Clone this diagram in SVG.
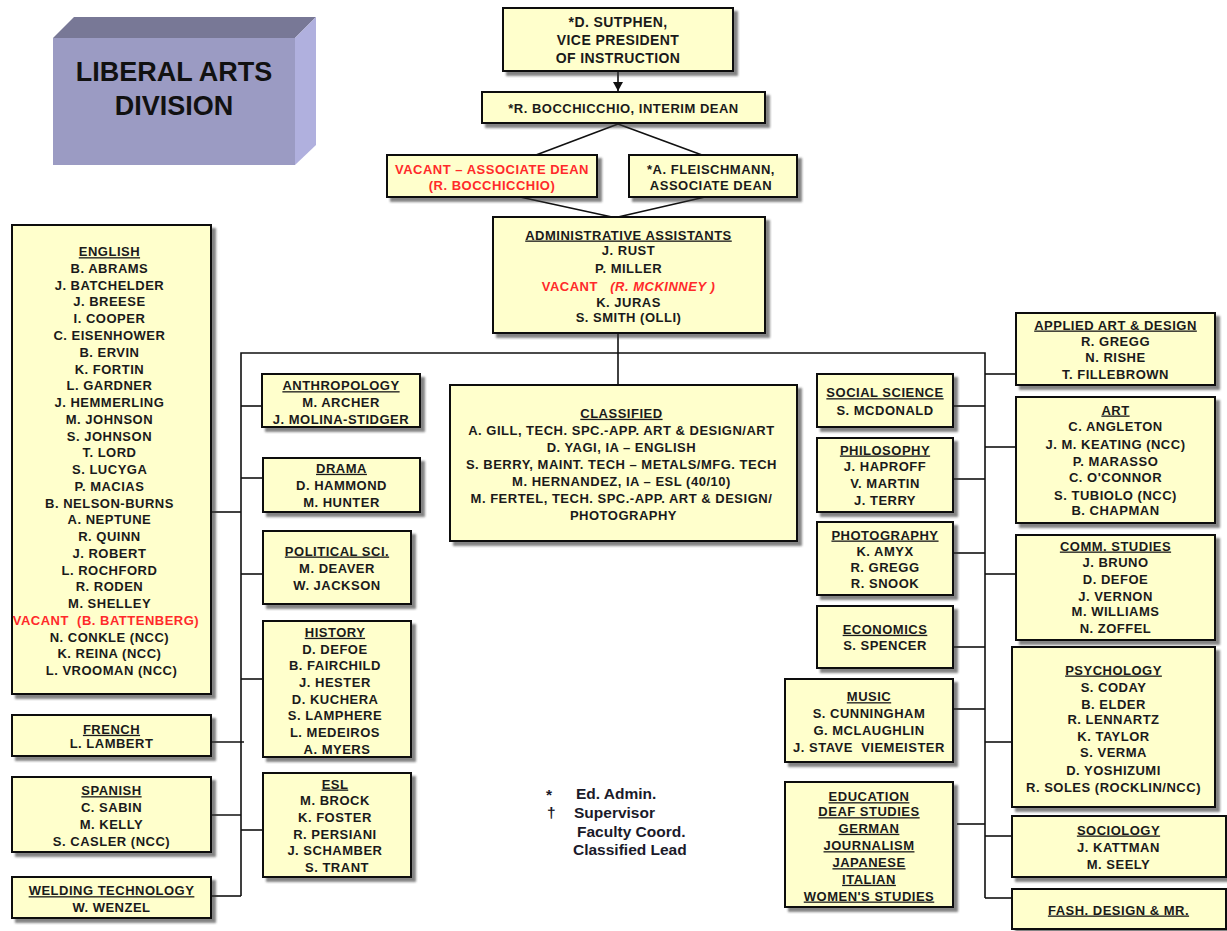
<svg xmlns="http://www.w3.org/2000/svg" width="1227" height="931" viewBox="0 0 1227 931">
  <defs>
    <filter id="sh" x="-10%" y="-10%" width="130%" height="130%">
      <feDropShadow dx="4" dy="4" stdDeviation="1.2" flood-color="#333" flood-opacity="0.6"/>
    </filter>
    <marker id="arr" markerWidth="10" markerHeight="10" refX="9" refY="5" orient="auto" markerUnits="userSpaceOnUse" viewBox="0 0 10 10">
      <path d="M0,0 L9,5 L0,10 Z" fill="#111"/>
    </marker>
    <style>
      .box { fill: #ffffcc; stroke: #111; stroke-width: 2; filter: url(#sh); }
      .t { font-family: "Liberation Sans", Arial, sans-serif; font-weight: bold; font-size: 13px; letter-spacing: 0.5px; fill: #1a1a1a; text-anchor: middle; }
      .big { font-size: 14px; letter-spacing: 0.4px; }
      .u { text-decoration: underline; }
      .red { fill: #ff2a2a; }
      .it { font-style: italic; }
      .ln { stroke: #111; stroke-width: 1.6; fill: none; }
      .lg { font-family: "Liberation Sans", Arial, sans-serif; font-weight: bold; font-size: 15.5px; fill: #1a1a2a; }
      .title { font-family: "Liberation Sans", Arial, sans-serif; font-weight: bold; font-size: 27px; fill: #111; text-anchor: middle; }
    </style>
  </defs>

  <rect width="1227" height="931" fill="#ffffff"/>

  <!-- division banner block -->
  <g id="division">
    <polygon points="53,38 74,17 316,17 295,38" fill="#787896"/>
    <polygon points="295,38 316,17 316,145 295,165" fill="#b0b0de"/>
    <rect x="53" y="38" width="242" height="127" fill="#9b9bc3"/>
    <text class="title" x="174" y="81">LIBERAL ARTS</text>
    <text class="title" x="174" y="115">DIVISION</text>
  </g>

  <!-- connectors -->
  <g id="connectors">
    <line class="ln" x1="618" y1="71" x2="618" y2="91" marker-end="url(#arr)"/>
    <line class="ln" x1="618" y1="124" x2="536" y2="155"/>
    <line class="ln" x1="618" y1="124" x2="702" y2="155"/>
    <line class="ln" x1="520" y1="197" x2="612" y2="217"/>
    <line class="ln" x1="705" y1="197" x2="618" y2="217"/>
    <line class="ln" x1="618" y1="333" x2="618" y2="385"/>
    <!-- main bus -->
    <polyline class="ln" points="241,896 241,353 985,353 985,898"/>
    <!-- left column -->
    <line class="ln" x1="211" y1="512" x2="241" y2="512"/>
    <line class="ln" x1="211" y1="742" x2="244" y2="742"/>
    <line class="ln" x1="207" y1="815" x2="241" y2="815"/>
    <line class="ln" x1="211" y1="896" x2="241" y2="896"/>
    <!-- second column -->
    <line class="ln" x1="241" y1="406" x2="262" y2="406"/>
    <line class="ln" x1="241" y1="478" x2="263" y2="478"/>
    <line class="ln" x1="241" y1="574" x2="263" y2="574"/>
    <line class="ln" x1="241" y1="679" x2="263" y2="679"/>
    <line class="ln" x1="241" y1="830" x2="263" y2="830"/>
    <!-- right side -->
    <line class="ln" x1="985" y1="374" x2="1016" y2="374"/>
    <line class="ln" x1="953" y1="406" x2="985" y2="406"/>
    <line class="ln" x1="985" y1="447" x2="1016" y2="447"/>
    <line class="ln" x1="953" y1="479" x2="985" y2="479"/>
    <line class="ln" x1="953" y1="553" x2="985" y2="553"/>
    <line class="ln" x1="985" y1="574" x2="1016" y2="574"/>
    <line class="ln" x1="953" y1="647" x2="985" y2="647"/>
    <line class="ln" x1="953" y1="709" x2="985" y2="709"/>
    <line class="ln" x1="985" y1="742" x2="1012" y2="742"/>
    <line class="ln" x1="957" y1="824" x2="985" y2="824"/>
    <line class="ln" x1="985" y1="836" x2="1012" y2="836"/>
    <line class="ln" x1="985" y1="898" x2="1012" y2="898"/>
  </g>

  <!-- leadership -->
  <g id="vp">
    <rect class="box" x="503" y="8" width="230" height="63"/>
    <text class="t big" x="618" y="26.7">*D. SUTPHEN,</text>
    <text class="t big" x="618" y="45">VICE PRESIDENT</text>
    <text class="t big" x="618" y="63.3">OF INSTRUCTION</text>
  </g>
  <g id="dean">
    <rect class="box" x="482" y="92" width="283" height="31"/>
    <text class="t" x="623.5" y="112.8">*R. BOCCHICCHIO, INTERIM DEAN</text>
  </g>
  <g id="assoc-vacant">
    <rect class="box" x="387" y="155" width="210" height="42"/>
    <text class="t red" x="492" y="173.8">VACANT – ASSOCIATE DEAN</text>
    <text class="t red" x="492" y="189.8">(R. BOCCHICCHIO)</text>
  </g>
  <g id="assoc-fleischmann">
    <rect class="box" x="629" y="155" width="168" height="42"/>
    <text class="t" x="711" y="173.8">*A. FLEISCHMANN,</text>
    <text class="t" x="711" y="189.8">ASSOCIATE DEAN</text>
  </g>
  <g id="admin">
    <rect class="box" x="493" y="217" width="272" height="116"/>
    <text class="t u" x="628.5" y="239.5">ADMINISTRATIVE ASSISTANTS</text>
    <text class="t" x="628.5" y="255.2">J. RUST</text>
    <text class="t" x="628.5" y="272.8">P. MILLER</text>
    <text class="t red" x="628.5" y="290.5">VACANT&#160;&#160;&#160;<tspan class="it">(R. MCKINNEY )</tspan></text>
    <text class="t" x="628.5" y="307.2">K. JURAS</text>
    <text class="t" x="628.5" y="321.8">S. SMITH (OLLI)</text>
  </g>

  <!-- left column -->
  <g id="english">
    <rect class="box" x="12" y="225" width="199" height="469"/>
    <text class="t" x="111.5" y="256.2">
      <tspan class="u" x="111.5">ENGLISH</tspan>
      <tspan x="111.5" dy="16.76">B. ABRAMS</tspan>
      <tspan x="111.5" dy="16.76">J. BATCHELDER</tspan>
      <tspan x="111.5" dy="16.76">J. BREESE</tspan>
      <tspan x="111.5" dy="16.76">I. COOPER</tspan>
      <tspan x="111.5" dy="16.76">C. EISENHOWER</tspan>
      <tspan x="111.5" dy="16.76">B. ERVIN</tspan>
      <tspan x="111.5" dy="16.76">K. FORTIN</tspan>
      <tspan x="111.5" dy="16.76">L. GARDNER</tspan>
      <tspan x="111.5" dy="16.76">J. HEMMERLING</tspan>
      <tspan x="111.5" dy="16.76">M. JOHNSON</tspan>
      <tspan x="111.5" dy="16.76">S. JOHNSON</tspan>
      <tspan x="111.5" dy="16.76">T. LORD</tspan>
      <tspan x="111.5" dy="16.76">S. LUCYGA</tspan>
      <tspan x="111.5" dy="16.76">P. MACIAS</tspan>
      <tspan x="111.5" dy="16.76">B. NELSON-BURNS</tspan>
      <tspan x="111.5" dy="16.76">A. NEPTUNE</tspan>
      <tspan x="111.5" dy="16.76">R. QUINN</tspan>
      <tspan x="111.5" dy="16.76">J. ROBERT</tspan>
      <tspan x="111.5" dy="16.76">L. ROCHFORD</tspan>
      <tspan x="111.5" dy="16.76">R. RODEN</tspan>
      <tspan x="111.5" dy="16.76">M. SHELLEY</tspan>
      <tspan class="red" x="108" dy="16.76">VACANT&#160;&#160;(B. BATTENBERG)</tspan>
      <tspan x="111.5" dy="16.76">N. CONKLE (NCC)</tspan>
      <tspan x="111.5" dy="16.76">K. REINA (NCC)</tspan>
      <tspan x="111.5" dy="16.76">L. VROOMAN (NCC)</tspan>
    </text>
  </g>
  <g id="french">
    <rect class="box" x="12" y="715" width="199" height="41"/>
    <text class="t u" x="111.5" y="733.8">FRENCH</text>
    <text class="t" x="111.5" y="747.8">L. LAMBERT</text>
  </g>
  <g id="spanish">
    <rect class="box" x="12" y="777" width="199" height="75"/>
    <text class="t u" x="111.5" y="795.2">SPANISH</text>
    <text class="t" x="111.5" y="812.2">C. SABIN</text>
    <text class="t" x="111.5" y="828.7">M. KELLY</text>
    <text class="t" x="111.5" y="846">S. CASLER (NCC)</text>
  </g>
  <g id="welding">
    <rect class="box" x="12" y="877" width="199" height="41"/>
    <text class="t u" x="111.5" y="895.2">WELDING TECHNOLOGY</text>
    <text class="t" x="111.5" y="911.8">W. WENZEL</text>
  </g>

  <!-- second column -->
  <g id="anthropology">
    <rect class="box" x="262" y="374" width="158" height="53"/>
    <text class="t u" x="341" y="390.2">ANTHROPOLOGY</text>
    <text class="t" x="341" y="407.2">M. ARCHER</text>
    <text class="t" x="341" y="423.8">J. MOLINA-STIDGER</text>
  </g>
  <g id="drama">
    <rect class="box" x="263" y="458" width="157" height="54"/>
    <text class="t u" x="341.5" y="472.8">DRAMA</text>
    <text class="t" x="341.5" y="490.2">D. HAMMOND</text>
    <text class="t" x="341.5" y="506.8">M. HUNTER</text>
  </g>
  <g id="political-sci">
    <rect class="box" x="263" y="531" width="148" height="73"/>
    <text class="t u" x="337" y="555.5">POLITICAL SCI.</text>
    <text class="t" x="337" y="572.8">M. DEAVER</text>
    <text class="t" x="337" y="590.2">W. JACKSON</text>
  </g>
  <g id="history">
    <rect class="box" x="263" y="621" width="148" height="136"/>
    <text class="t" x="337" y="636.8">
      <tspan class="u" x="337">HISTORY</tspan>
      <tspan x="337" dy="16.7">D. DEFOE</tspan>
      <tspan x="337" dy="16.7">B. FAIRCHILD</tspan>
      <tspan x="337" dy="16.7">J. HESTER</tspan>
      <tspan x="337" dy="16.7">D. KUCHERA</tspan>
      <tspan x="337" dy="16.7">S. LAMPHERE</tspan>
      <tspan x="337" dy="16.7">L. MEDEIROS</tspan>
      <tspan x="337" dy="16.7">A. MYERS</tspan>
    </text>
  </g>
  <g id="esl">
    <rect class="box" x="263" y="773" width="148" height="104"/>
    <text class="t" x="337" y="788.5">
      <tspan class="u" x="337">ESL</tspan>
      <tspan x="337" dy="16.7">M. BROCK</tspan>
      <tspan x="337" dy="16.7">K. FOSTER</tspan>
      <tspan x="337" dy="16.7">R. PERSIANI</tspan>
      <tspan x="337" dy="16.7">J. SCHAMBER</tspan>
      <tspan x="337" dy="16.7">S. TRANT</tspan>
    </text>
  </g>

  <!-- classified staff -->
  <g id="classified">
    <rect class="box" x="450" y="385" width="347" height="156"/>
    <text class="t" x="623.5" y="417.8">
      <tspan class="u" x="623.5">CLASSIFIED</tspan>
      <tspan x="623.5" dy="17.1">A. GILL, TECH. SPC.-APP. ART &amp; DESIGN/ART</tspan>
      <tspan x="623.5" dy="17.1">D. YAGI, IA – ENGLISH</tspan>
      <tspan x="623.5" dy="17.1">S. BERRY, MAINT. TECH – METALS/MFG. TECH</tspan>
      <tspan x="623.5" dy="17.1">M. HERNANDEZ, IA – ESL (40/10)</tspan>
      <tspan x="623.5" dy="17.1">M. FERTEL, TECH. SPC.-APP. ART &amp; DESIGN/</tspan>
      <tspan x="623.5" dy="17.1">PHOTOGRAPHY</tspan>
    </text>
  </g>

  <!-- legend -->
  <g id="legend">
    <text class="lg" x="546" y="800">*</text>
    <text class="lg" x="576" y="798.5">Ed. Admin.</text>
    <text class="lg" x="547" y="818">†</text>
    <text class="lg" x="574" y="818">Supervisor</text>
    <text class="lg" x="577" y="836.5">Faculty Coord.</text>
    <text class="lg" x="573" y="855">Classified Lead</text>
  </g>

  <!-- right side, inner column -->
  <g id="social-science">
    <rect class="box" x="817" y="374" width="136" height="53"/>
    <text class="t u" x="885" y="397.2">SOCIAL SCIENCE</text>
    <text class="t" x="885" y="414.5">S. MCDONALD</text>
  </g>
  <g id="philosophy">
    <rect class="box" x="817" y="438" width="136" height="74"/>
    <text class="t u" x="885" y="454.5">PHILOSOPHY</text>
    <text class="t" x="885" y="471.2">J. HAPROFF</text>
    <text class="t" x="885" y="487.8">V. MARTIN</text>
    <text class="t" x="885" y="504.5">J. TERRY</text>
  </g>
  <g id="photography">
    <rect class="box" x="817" y="522" width="136" height="73"/>
    <text class="t u" x="885" y="539.5">PHOTOGRAPHY</text>
    <text class="t" x="885" y="556.2">K. AMYX</text>
    <text class="t" x="885" y="572.2">R. GREGG</text>
    <text class="t" x="885" y="587.8">R. SNOOK</text>
  </g>
  <g id="economics">
    <rect class="box" x="817" y="606" width="136" height="62"/>
    <text class="t u" x="885" y="633.8">ECONOMICS</text>
    <text class="t" x="885" y="650.2">S. SPENCER</text>
  </g>
  <g id="music">
    <rect class="box" x="785" y="679" width="168" height="83"/>
    <text class="t u" x="869" y="701.2">MUSIC</text>
    <text class="t" x="869" y="717.8">S. CUNNINGHAM</text>
    <text class="t" x="869" y="734.5">G. MCLAUGHLIN</text>
    <text class="t" x="869" y="751.8">J. STAVE&#160;&#160;VIEMEISTER</text>
  </g>
  <g id="education">
    <rect class="box" x="785" y="782" width="168" height="125"/>
    <text class="t u" x="869" y="801.2">EDUCATION</text>
    <text class="t u" x="869" y="816.2">DEAF STUDIES</text>
    <text class="t u" x="869" y="832.8">GERMAN</text>
    <text class="t u" x="869" y="850.2">JOURNALISM</text>
    <text class="t u" x="869" y="867.2">JAPANESE</text>
    <text class="t u" x="869" y="883.8">ITALIAN</text>
    <text class="t u" x="869" y="900.5">WOMEN'S STUDIES</text>
  </g>

  <!-- right side, outer column -->
  <g id="applied-art">
    <rect class="box" x="1016" y="313" width="199" height="72"/>
    <text class="t u" x="1115.5" y="329.5">APPLIED ART &amp; DESIGN</text>
    <text class="t" x="1115.5" y="345.5">R. GREGG</text>
    <text class="t" x="1115.5" y="362">N. RISHE</text>
    <text class="t" x="1115.5" y="378.5">T. FILLEBROWN</text>
  </g>
  <g id="art">
    <rect class="box" x="1016" y="397" width="199" height="126"/>
    <text class="t u" x="1115.5" y="414.5">ART</text>
    <text class="t" x="1115.5" y="431.2">C. ANGLETON</text>
    <text class="t" x="1115.5" y="448.5">J. M. KEATING (NCC)</text>
    <text class="t" x="1115.5" y="465.5">P. MARASSO</text>
    <text class="t" x="1115.5" y="482.2">C. O'CONNOR</text>
    <text class="t" x="1115.5" y="499.5">S. TUBIOLO (NCC)</text>
    <text class="t" x="1115.5" y="514.5">B. CHAPMAN</text>
  </g>
  <g id="comm-studies">
    <rect class="box" x="1016" y="535" width="199" height="105"/>
    <text class="t u" x="1115.5" y="550.5">COMM. STUDIES</text>
    <text class="t" x="1115.5" y="567.2">J. BRUNO</text>
    <text class="t" x="1115.5" y="583.8">D. DEFOE</text>
    <text class="t" x="1115.5" y="600.5">J. VERNON</text>
    <text class="t" x="1115.5" y="616.2">M. WILLIAMS</text>
    <text class="t" x="1115.5" y="632.8">N. ZOFFEL</text>
  </g>
  <g id="psychology">
    <rect class="box" x="1012" y="647" width="203" height="160"/>
    <text class="t u" x="1113.5" y="674.5">PSYCHOLOGY</text>
    <text class="t" x="1113.5" y="691.8">S. CODAY</text>
    <text class="t" x="1113.5" y="708.5">B. ELDER</text>
    <text class="t" x="1113.5" y="723.8">R. LENNARTZ</text>
    <text class="t" x="1113.5" y="740.5">K. TAYLOR</text>
    <text class="t" x="1113.5" y="757.2">S. VERMA</text>
    <text class="t" x="1113.5" y="774.5">D. YOSHIZUMI</text>
    <text class="t" x="1113.5" y="791.8">R. SOLES (ROCKLIN/NCC)</text>
  </g>
  <g id="sociology">
    <rect class="box" x="1012" y="816" width="214" height="61"/>
    <text class="t u" x="1118.5" y="834.5">SOCIOLOGY</text>
    <text class="t" x="1118.5" y="851.8">J. KATTMAN</text>
    <text class="t" x="1118.5" y="868.5">M. SEELY</text>
  </g>
  <g id="fashion">
    <rect class="box" x="1012" y="889" width="214" height="40"/>
    <text class="t u" x="1118.5" y="914.5">FASH. DESIGN &amp; MR.</text>
  </g>
</svg>
